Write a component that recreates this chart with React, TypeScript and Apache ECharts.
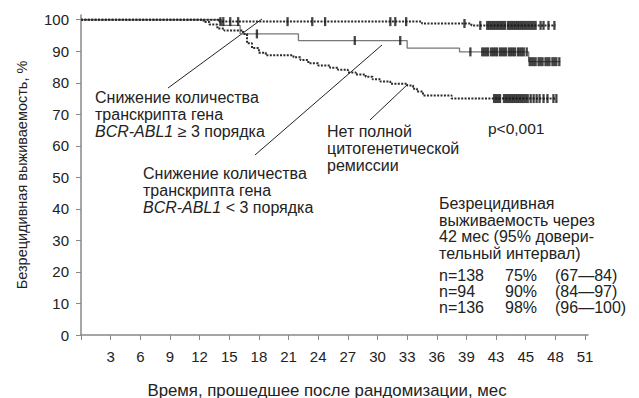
import React, { useEffect, useRef } from 'react';
import * as echarts from 'echarts';

// Kaplan–Meier curves (time in months, survival %)
const curveHighT = [0, 14.0, 34.5, 39.5, 48.0];
const curveHighV = [100, 99.4, 98.8, 98.2, 98.2];

const curveMidT = [0, 14.2, 16.1, 22.0, 33.0, 38.3, 45.3, 48.5];
const curveMidV = [100, 98.2, 95.5, 93.4, 91.0, 89.8, 86.7, 86.7];

const curveLowT = [0, 12.4, 13.0, 13.8, 14.5, 16.4, 16.8, 17.3, 18.0, 18.7, 21.5, 22.2, 23.0, 24.0, 25.2, 26.0, 27.0, 27.8, 28.8, 29.5, 30.3, 31.3, 33.0, 33.6, 34.0, 34.6, 37.5, 48.1];
const curveLowV = [100, 99.3, 98.5, 97.2, 96.6, 95.5, 92.5, 91.0, 89.5, 88.7, 88.1, 87.2, 86.2, 85.5, 84.8, 84.1, 83.3, 82.6, 81.9, 81.1, 80.4, 79.7, 79.1, 78.1, 77.2, 76.0, 75.0, 75.0];

// censoring marks (months)
const censorHigh = [14.1, 14.4, 15.1, 15.9, 20.9, 23.4, 24.7, 31.3, 31.8, 32.9, 38.8, 40.4,
  41.1, 41.3, 41.5, 41.7, 41.9, 42.1, 42.3, 42.5, 42.7, 42.9, 43.2, 43.4, 43.6, 43.8, 44.0, 44.2,
  44.4, 44.6, 44.8, 45.0, 45.2, 45.4, 45.6, 45.8, 46.0, 46.5, 46.8, 47.3, 47.9];
const censorMid = [17.8, 27.7, 32.3, 39.4,
  40.6, 40.8, 41.0, 41.2, 41.5, 41.7, 41.9, 42.1, 42.4, 42.6, 42.8, 43.0, 43.3, 43.5, 43.7, 43.9,
  44.2, 44.4, 44.6, 44.8, 45.1,
  45.4, 45.6, 45.8, 46.0, 46.3, 46.5, 46.7, 47.0, 47.2, 47.4, 47.7, 47.9, 48.1, 48.4];
const censorLow = [41.8, 42.0, 42.2, 42.4, 42.8, 43.0, 43.2, 43.4, 43.6, 43.8, 44.0, 44.2, 44.4,
  44.6, 44.8, 45.0, 45.2, 45.5, 45.8, 46.1, 46.4, 46.8, 47.2, 47.8, 48.1];

const xTickValues = [3, 6, 9, 12, 15, 18, 21, 24, 27, 30, 33, 36, 39, 42, 45, 48, 51];
const xTickLabels = ['3', '6', '9', '12', '15', '18', '21', '24', '27', '30', '33', '36', '39', '43', '45', '48', '51'];
const yTickValues = [0, 10, 20, 30, 40, 50, 60, 70, 80, 90, 100];

const tableN = ['n=138', 'n=94', 'n=136'];
const tablePct = ['75%', '90%', '98%'];
const tableCI = ['(67—84)', '(84—97)', '(96—100)'];

const FONT = '"Liberation Sans", Arial, Helvetica, sans-serif';
const TXT = '#222';
const FS = 16;

function stepValue(ts: number[], vs: number[], t: number): number {
  let v = vs[0];
  for (let i = 0; i < ts.length; i++) if (ts[i] <= t) v = vs[i];
  return v;
}

const zip = (ts: number[], vs: number[]) => ts.map((t, i) => [t, vs[i]]);

export default function App() {
  const ref = useRef<HTMLDivElement>(null);
  useEffect(() => {
    document.body.style.margin = '0';
    const chart = echarts.init(ref.current!, null, { renderer: 'svg' });
    const dotted = { type: [2, 1.4] as any, width: 2, color: '#2a2a2a', cap: 'butt' as any };
    const censorSeries = (ts: number[], vs: number[], c: number[], name: string) => ({
      name,
      type: 'scatter',
      symbol: 'rect',
      symbolSize: [2.3, 9],
      itemStyle: { color: '#151515' },
      z: 5,
      silent: true,
      data: c.map((t) => [t, stepValue(ts, vs, t)]),
    });
    const txt = (x: number, y: number, text: string, extra: any = {}) => ({
      type: 'text',
      x,
      y,
      style: {
        text,
        fill: TXT,
        fontSize: FS,
        fontFamily: FONT,
        verticalAlign: 'top',
        ...extra,
      },
    });
    const rich = { i: { fontStyle: 'italic', fontSize: FS, fontFamily: FONT, fill: TXT } };
    const line = (x1: number, y1: number, x2: number, y2: number) => ({
      type: 'line',
      shape: { x1, y1, x2, y2 },
      style: { stroke: '#222', lineWidth: 1 },
    });
    const graphic: any[] = [
      line(168, 88, 262, 19),
      line(255, 155, 382, 45),
      line(370, 120, 408, 84),
      txt(95, 88.5, 'Снижение количества\nтранскрипта гена\n{i|BCR-ABL1} ≥ 3 порядка', { lineHeight: 17, rich }),
      txt(143, 164.5, 'Снижение количества\nтранскрипта гена\n{i|BCR-ABL1} < 3 порядка', { lineHeight: 17, rich }),
      txt(327, 123.3, 'Нет полной\nцитогенетической\nремиссии', { lineHeight: 16.7 }),
      txt(488, 120, 'p<0,001', { lineHeight: 16, fontSize: 15.5 }),
      txt(439, 195.7, 'Безрецидивная\nвыживаемость через\n42 мес (95% довери-\nтельный интервал)', { lineHeight: 16.5 }),
      {
        type: 'text',
        x: 327,
        y: 390,
        style: { text: 'Время, прошедшее после рандомизации, мес', fill: TXT, fontSize: 16.8, fontFamily: FONT, align: 'center', verticalAlign: 'middle' },
      },
    ];
    tableN.forEach((s, i) => {
      const y = 275 + i * 16 - 8;
      graphic.push(txt(439, y, s));
      graphic.push(txt(505, y, tablePct[i]));
      graphic.push(txt(555, y, tableCI[i]));
    });

    chart.setOption({
      animation: false,
      grid: { left: 81, right: 51, top: 15, bottom: 63 },
      xAxis: {
        type: 'value',
        min: 0,
        max: 51.3,
        splitLine: { show: false },
        axisLine: { lineStyle: { color: '#888', width: 1.5 } },
        axisTick: { customValues: [0, ...xTickValues], length: 5, lineStyle: { color: '#888' } },
        axisLabel: {
          customValues: xTickValues,
          formatter: (v: number) => xTickLabels[xTickValues.indexOf(v)] ?? '',
          color: TXT,
          fontSize: 15,
          fontFamily: FONT,
          margin: 14,
        },
      },
      yAxis: {
        type: 'value',
        min: 0,
        max: 101.5,
        name: 'Безрецидивная выживаемость, %',
        nameLocation: 'middle',
        nameGap: 52,
        nameTextStyle: { color: TXT, fontSize: 14.5, fontFamily: FONT },
        splitLine: { show: false },
        axisLine: { show: true, lineStyle: { color: '#888', width: 1.5 } },
        axisTick: { show: true, customValues: yTickValues, length: 5, lineStyle: { color: '#888' } },
        axisLabel: { customValues: yTickValues, color: TXT, fontSize: 15, fontFamily: FONT, margin: 12 },
      },
      series: [
        { name: 'high', type: 'line', step: 'end', symbol: 'none', data: zip(curveHighT, curveHighV), lineStyle: dotted, z: 3 },
        { name: 'mid', type: 'line', step: 'end', symbol: 'none', data: zip(curveMidT, curveMidV), lineStyle: { color: '#777', width: 1.3 }, z: 2 },
        { name: 'low', type: 'line', step: 'end', symbol: 'none', data: zip(curveLowT, curveLowV), lineStyle: dotted, z: 3 },
        censorSeries(curveHighT, curveHighV, censorHigh, 'cH'),
        censorSeries(curveMidT, curveMidV, censorMid, 'cM'),
        censorSeries(curveLowT, curveLowV, censorLow, 'cL'),
      ],
      graphic,
    });
    return () => chart.dispose();
  }, []);
  return <div ref={ref} style={{ width: 639, height: 398 }} />;
}
